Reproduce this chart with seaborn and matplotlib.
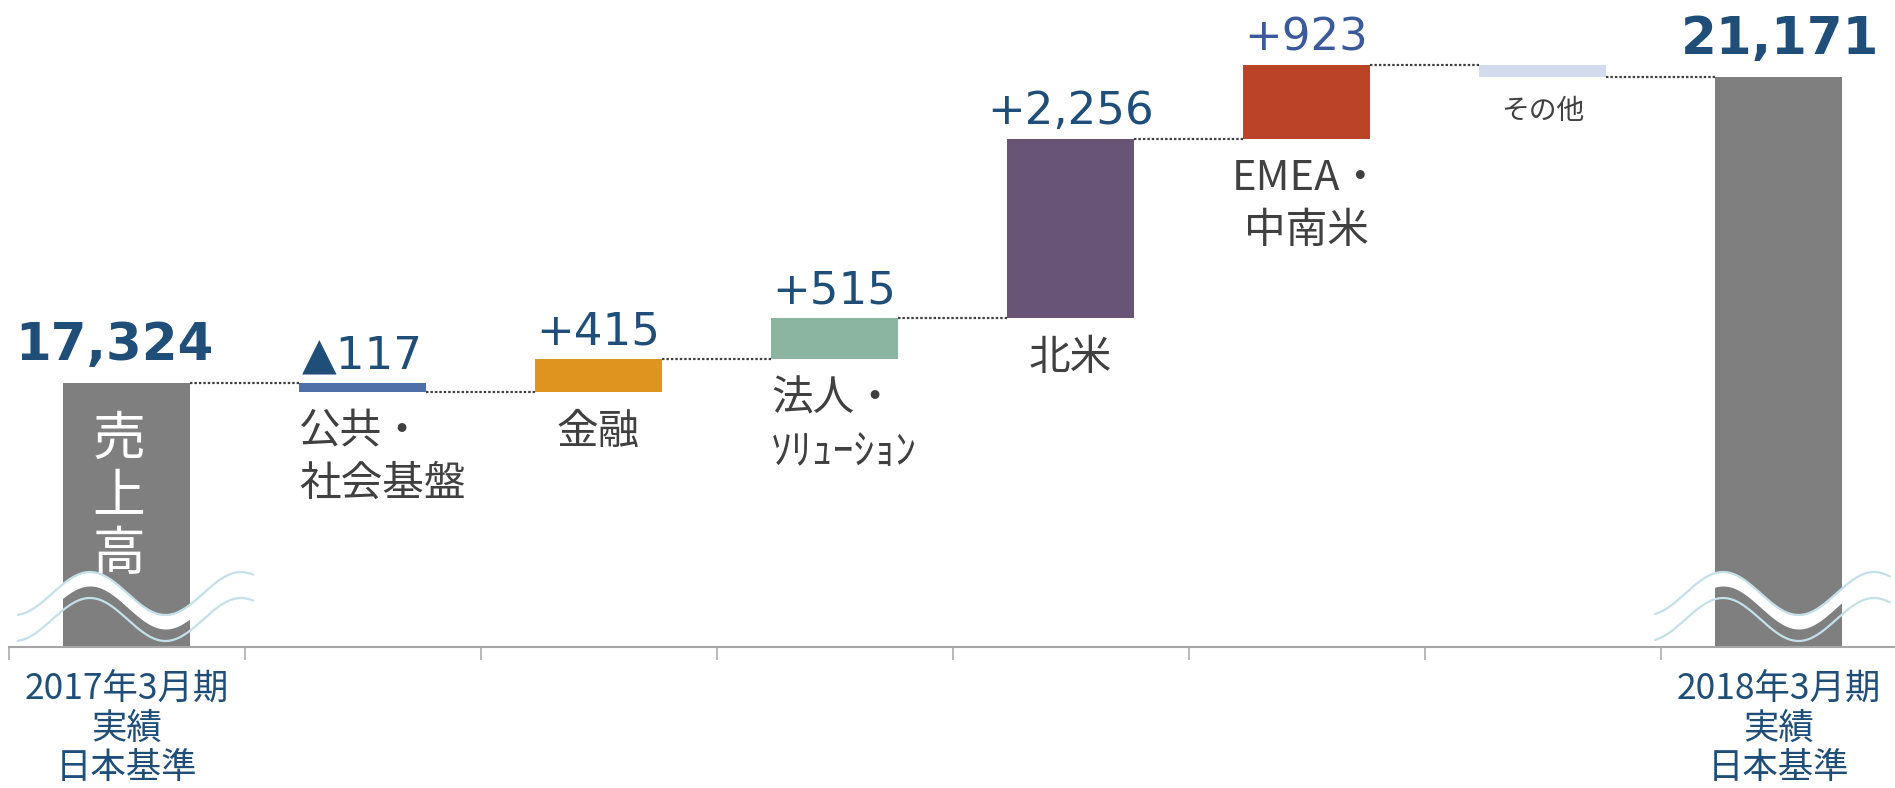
import numpy as np
import pandas as pd
import matplotlib
matplotlib.use("Agg")
import matplotlib.pyplot as plt
import seaborn as sns

# values (unit: 億円)
start_value = 17324
end_value = 21171
segments = ["公共・\n社会基盤", "金融", "法人・\nｿﾘｭｰｼｮﾝ", "北米", "EMEA・\n中南米", "その他"]
deltas = [-117, 415, 515, 2256, 923, -145]
delta_labels = ["▲117", "+415", "+515", "+2,256", "+923", ""]
total_labels = ["17,324", "21,171"]
period_labels = ["2017年3月期\n実績\n日本基準", "2018年3月期\n実績\n日本基準"]

bar_colors = ["#7f7f7f", "#4f6fa8", "#df9420", "#8bb5a0",
              "#685474", "#bb4428", "#d3dcec", "#7f7f7f"]
delta_colors = ["#1f4e79", "#1f4e79", "#1f4e79", "#1f4e79", "#3b5a9b", "#1f4e79"]
segment_align = ["left", "center", "left", "center", "center", "center"]
segment_sizes = [30, 30, 30, 30, 30, 20]

NAVY = "#1f4e79"
TEXT_GREY = "#404040"
AXIS_GREY = "#a6a6a6"
WAVE_BLUE = "#c4e0ea"
CJK = ["Noto Sans CJK JP", "DejaVu Sans"]
BAR_W = 0.538

sns.set_theme(style="white")
plt.rcParams["font.family"] = ["DejaVu Sans", "Noto Sans CJK JP"]

# waterfall geometry
levels = start_value + np.concatenate([[0], np.cumsum(deltas)])
bottoms = [0] + [min(levels[i], levels[i + 1]) for i in range(len(deltas))] + [0]
heights = [start_value] + [abs(d) for d in deltas] + [end_value]
df = pd.DataFrame({"key": [f"c{i}" for i in range(len(heights))],
                   "bottom": bottoms, "height": heights})

fig = plt.figure(figsize=(18.95, 7.88), dpi=100)
ax = fig.add_axes([8.5 / 1895, 141 / 788, 1888 / 1895, 647 / 788])

sns.barplot(data=df, x="key", y="height", bottom=df["bottom"].values,
            width=BAR_W, errorbar=None, color="#7f7f7f", saturation=1,
            ax=ax, zorder=2)
for patch, c in zip(ax.patches, bar_colors):
    patch.set_facecolor(c)
    patch.set_edgecolor("none")

n = len(heights)
# dotted connectors between bars
for i in range(n - 1):
    ax.plot([i + BAR_W / 2, i + 1 - BAR_W / 2], [levels[i], levels[i]],
            color=TEXT_GREY, lw=1.6, linestyle=(0, (1.1, 0.9)), zorder=1)

# totals
for i, txt, dx in zip([0, n - 1], total_labels, [-9, 1]):
    top = bottoms[i] + heights[i]
    ax.annotate(txt, (i, top), xytext=(dx, 16.5), textcoords="offset points",
                ha="center", va="baseline", fontsize=37, fontweight="bold",
                color=NAVY)

# deltas and segment names
for k, (name, dtxt) in enumerate(zip(segments, delta_labels)):
    i = k + 1
    top = bottoms[i] + heights[i]
    if dtxt:
        ax.annotate(dtxt, (i, top), xytext=(0, 10.8), textcoords="offset points",
                    ha="center", va="baseline", fontsize=32.5,
                    color=delta_colors[k])
    x = i - BAR_W / 2 if segment_align[k] == "left" else i
    ax.annotate(name, (x, bottoms[i]), xytext=(0, -14), textcoords="offset points",
                ha=segment_align[k], va="top", multialignment=segment_align[k],
                fontsize=segment_sizes[k], color=TEXT_GREY, family=CJK,
                linespacing=1.35)

# vertical caption inside the first bar
ax.annotate("売\n上\n高", (0, 0.232), xycoords=ax.get_xaxis_transform(),
            xytext=(-5.5, 0), textcoords="offset points", ha="center", va="center",
            fontsize=38, color="white", family=CJK, linespacing=1.05, zorder=5)

# axis-break waves on the two total bars
trans = ax.get_xaxis_transform()
for xc, x0, x1, xp in [(0, -0.46, 0.536, -0.155), (n - 1, -0.523, 0.472, -0.235)]:
    xs = np.linspace(xc + x0, xc + x1, 300)
    upper = (53.5 + 21.5 * np.cos(2 * np.pi * (xs - (xc + xp)) / 0.64)) / 647
    ax.fill_between(xs, upper - 14 / 647, upper, color="white", lw=0,
                    transform=trans, zorder=4)
    ax.plot(xs, upper, color=WAVE_BLUE, lw=1.6, transform=trans, zorder=5)
    ax.plot(xs, upper - 26 / 647, color=WAVE_BLUE, lw=1.6, transform=trans, zorder=5)

# axes styling
ax.set_xlim(-0.5, n - 0.5)
ax.set_ylim(14005, 22139)
ax.set_yticks([])
ax.set_xlabel("")
ax.set_ylabel("")
for side in ["left", "top", "right"]:
    ax.spines[side].set_visible(False)
ax.spines["bottom"].set_color(AXIS_GREY)
ax.spines["bottom"].set_linewidth(1.5)

ax.set_xticks(range(n))
ax.set_xticklabels([period_labels[0]] + [""] * (n - 2) + [period_labels[1]],
                   family=CJK, fontsize=25.5, color=NAVY, linespacing=1.1)
ax.set_xticks(np.arange(-0.5, n - 1, 1), minor=True)
ax.tick_params(axis="x", which="major", length=0, pad=18)
ax.tick_params(axis="x", which="minor", length=9.4, width=1.1, color=AXIS_GREY,
               direction="out", bottom=True)

fig.savefig("out.png", dpi=100)
